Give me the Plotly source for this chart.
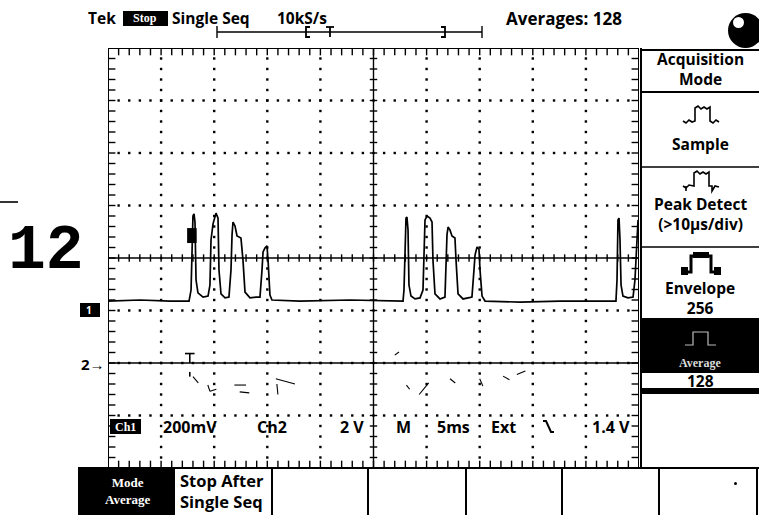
import plotly.graph_objects as go

# Screen size and graticule placement (pixels)
W, H = 759, 515
GX0, GX1, GY0, GY1 = 108, 639, 48, 468

# Acquisition / vertical settings
n_hdiv, n_vdiv = 10, 8
time_per_div_ms = 5
ch1_mv_per_div = 200
ch1_offset_div = -1.0
ch2_v_per_div = 2
ch2_offset_div = -2.0
trigger_ms = 7.7

# Ch1 averaged record: time (ms) and level (mV)
ch1_t_ms = [0, 3.01, 5.84, 7.63, 7.82, 7.91, 8.00, 8.10, 8.19, 8.29, 8.47, 8.95, 9.42, 9.60,
            9.70, 9.89, 10.08, 10.17, 10.36, 10.45, 10.64, 11.02, 11.39, 11.58, 11.68, 11.77,
            11.96, 12.15, 12.52, 12.71, 12.90, 13.37, 13.94, 14.31, 14.50, 14.60, 14.78, 14.97,
            15.07, 15.25, 15.44, 18.08, 22.79, 27.78,
            27.87, 27.97, 28.06, 28.15, 28.25, 28.34, 28.53, 28.91, 29.38, 29.66, 29.76, 29.85,
            30.04, 30.32, 30.51, 30.60, 30.79, 31.26, 31.73, 31.83, 31.92, 32.02, 32.20, 32.39,
            32.67, 32.77, 32.96, 33.43, 33.90, 34.27, 34.46, 34.56, 34.75, 34.93, 35.03, 35.22,
            35.50, 38.79, 42.56, 46.33, 47.83,
            47.93, 48.02, 48.12, 48.21, 48.31, 48.49, 48.96, 49.44, 49.62, 49.81, 49.91, 50.0]
ch1_mv = [36, 40, 36, 36, 78, 269, 360, 368, 337, 116, 67, 51, 55, 97,
          269, 330, 356, 371, 352, 154, 63, 48, 51, 154, 288, 337,
          322, 284, 276, 192, 70, 48, 51, 51, 154, 223, 238, 246,
          192, 59, 40, 36, 40, 36,
          78, 269, 352, 356, 307, 97, 55, 44, 48, 78, 269, 345,
          360, 352, 337, 192, 63, 44, 51, 154, 288, 318, 307, 284,
          276, 192, 63, 44, 48, 51, 154, 211, 242, 234, 154, 55,
          36, 32, 36, 36, 36,
          116, 345, 352, 269, 97, 55, 48, 51, 116, 307, 345, 337]

# Ch2 record: time (ms) and level (V)
ch2_t_ms = [0, 50]
ch2_v = [0, 0]

# Faint leftover specks of the averaged Ch2 record (ms, V), segments split by None
ch2_residue_t = [8.0, 8.5, None, 9.4, 9.6, None, 9.6, 10.2, None, 11.9, 13.0, None, 12.4, 13.3, None,
                 15.8, 17.6, None, 15.9, 16.0, None, 28.1, 28.4, None, 29.3, 30.2, None,
                 32.2, 32.7, None, 35.0, 35.3, None, 37.2, 37.8, None, 38.5, 39.3, None, 27.0, 27.4]
ch2_residue_v = [-0.52, -0.76, None, -0.84, -1.08, None, -1.08, -1.0, None, -0.84, -0.84, None,
                 -1.1, -1.14, None, -0.6, -0.8, None, -0.8, -1.2, None, -0.84, -1.0, None,
                 -1.2, -0.76, None, -0.6, -0.76, None, -0.6, -0.88, None, -0.5, -0.64, None,
                 -0.44, -0.3, None, 0.3, 0.42]

# Readout labels along the bottom of the graticule
readout_labels = ["200mV", "Ch2", "2 V", "M", "5ms", "Ext", "1.4 V"]
readout_x_px = [190, 272, 352, 404, 453, 503, 611]

t_max = n_hdiv * time_per_div_ms
MENU_FONT = 15.5


def ch1_div(v):
    return v / ch1_mv_per_div + ch1_offset_div


def ch2_div(v):
    return None if v is None else v / ch2_v_per_div + ch2_offset_div


def px(x):
    return x / W


def py(y):
    return 1 - y / H


def seg(x0, y0, x1, y1, w=1.5, color="black"):
    return dict(type="line", xref="paper", yref="paper", x0=px(x0), y0=py(y0),
                x1=px(x1), y1=py(y1), line=dict(color=color, width=w))


def box(x0, y0, x1, y1, fill="black", lw=0, lc="black"):
    return dict(type="rect", xref="paper", yref="paper", x0=px(x0), y0=py(y0),
                x1=px(x1), y1=py(y1), fillcolor=fill, line=dict(color=lc, width=lw))


def poly(pts, w=1.5, color="black"):
    d = "M " + " L ".join(f"{px(x):.5f},{py(y):.5f}" for x, y in pts)
    return dict(type="path", xref="paper", yref="paper", path=d,
                line=dict(color=color, width=w))


def txt(x, y, s, size=14, color="black", anchor="center", family="Open Sans", bold=True):
    return dict(x=px(x), y=py(y), xref="paper", yref="paper",
                text=f"<b>{s}</b>" if bold else s, showarrow=False,
                xanchor=anchor, yanchor="middle", borderpad=0,
                font=dict(family=family, size=size, color=color))


fig = go.Figure()

# --- Graticule: dotted division lines ---
dot_x, dot_y = [], []
for k in range(1, n_hdiv):
    if k == n_hdiv // 2:
        continue
    for i in range(1, n_vdiv * 5):
        dot_x.append(k * time_per_div_ms)
        dot_y.append(-n_vdiv / 2 + 0.2 * i)
for j in range(1, n_vdiv):
    yv = j - n_vdiv / 2
    if yv == 0:
        continue
    for i in range(1, n_hdiv * 5):
        dot_x.append(i * time_per_div_ms / 5)
        dot_y.append(yv)
fig.add_trace(go.Scatter(x=dot_x, y=dot_y, mode="markers",
                         marker=dict(symbol="square", size=2.4, color="black"),
                         hoverinfo="skip"))

# --- Graticule: centre cross, border and minor ticks ---
tick_x, tick_y = [], []
ht = 0.07       # half tick height (div)
hw = 0.35       # half tick width (ms)
step_t = time_per_div_ms / 5
for i in range(1, n_hdiv * 5):
    t = i * step_t
    tick_x += [t, t, None, t, t, None, t, t, None]
    tick_y += [-ht, ht, None, 4, 4 - 2 * ht, None, -4, -4 + 2 * ht, None]
for i in range(1, n_vdiv * 5):
    yv = -4 + 0.2 * i
    tick_x += [t_max / 2 - hw, t_max / 2 + hw, None, 0, 2 * hw, None, t_max, t_max - 2 * hw, None]
    tick_y += [yv, yv, None, yv, yv, None, yv, yv, None]
tick_x += [0, t_max, None, t_max / 2, t_max / 2]
tick_y += [0, 0, None, -4, 4]
fig.add_trace(go.Scatter(x=tick_x, y=tick_y, mode="lines",
                         line=dict(color="black", width=1.4), hoverinfo="skip"))

# --- Ch2 trace and residue ---
fig.add_trace(go.Scatter(x=ch2_t_ms, y=[ch2_div(v) for v in ch2_v], mode="lines",
                         line=dict(color="black", width=1.6), hoverinfo="skip"))
fig.add_trace(go.Scatter(x=ch2_residue_t, y=[ch2_div(v) for v in ch2_residue_v], mode="lines",
                         line=dict(color="black", width=1.1), hoverinfo="skip",
                         connectgaps=False))

# Trigger position marker on Ch2
tr_top = ch2_offset_div + 0.18
fig.add_trace(go.Scatter(x=[trigger_ms - 0.45, trigger_ms + 0.45, None, trigger_ms, trigger_ms,
                            None, trigger_ms, trigger_ms],
                         y=[tr_top, tr_top, None, tr_top, ch2_offset_div, None,
                            ch2_offset_div - 0.17, ch2_offset_div - 0.26],
                         mode="lines", line=dict(color="black", width=1.6), hoverinfo="skip"))

# --- Ch1 trace ---
fig.add_trace(go.Scatter(x=ch1_t_ms, y=[ch1_div(v) for v in ch1_mv], mode="lines",
                         line=dict(color="black", width=1.7), hoverinfo="skip"))

shapes = []
ann = []

# Graticule outline
shapes.append(dict(type="rect", xref="x", yref="y", x0=0, y0=-4, x1=t_max, y1=4,
                   line=dict(color="black", width=2)))
# Ch1 cursor block beside the first pulse
shapes.append(dict(type="rect", xref="x", yref="y", x0=trigger_ms - 0.25, x1=trigger_ms + 0.65,
                   y0=ch1_div(257), y1=ch1_div(314), fillcolor="black", line=dict(width=0)))

# --- Top status line ---
ann.append(txt(87, 18, "Tek", 15.5, anchor="left"))
shapes.append(box(123, 11, 168, 26))
ann.append(txt(145, 18, "Stop", 12, color="white", family="Liberation Serif"))
ann.append(txt(171, 18, "Single Seq", 15.5, anchor="left"))
ann.append(txt(276, 18, "10kS/s", 15.5, anchor="left"))
ann.append(txt(505, 18, "Averages: 128", 17, anchor="left"))

# Record / trigger position bar with window brackets and trigger point
shapes += [seg(217, 32, 482, 32, 1.4), seg(217, 26, 217, 38, 1.4), seg(482, 26, 482, 38, 1.4),
           poly([(310, 27), (306, 27), (306, 37), (310, 37)], 1.8),
           poly([(441, 27), (445, 27), (445, 37), (441, 37)], 1.8),
           seg(326, 27, 334, 27, 1.8), seg(330, 27, 330, 37, 1.8)]

# Run indicator
shapes.append(dict(type="circle", xref="paper", yref="paper", x0=px(728), y0=py(48),
                   x1=px(763), y1=py(13), fillcolor="black", line=dict(width=0)))
shapes.append(dict(type="circle", xref="paper", yref="paper", x0=px(733), y0=py(28),
                   x1=px(744), y1=py(17), fillcolor="white", line=dict(width=0)))

# --- Channel ground markers ---
shapes.append(box(80, 303, 100, 317))
ann.append(txt(89, 310, "1", 10, color="white"))
ann.append(txt(80, 364, "2→", 15, anchor="left"))

# Side label
shapes.append(seg(0, 202, 18, 202, 1.6))
ann.append(txt(46, 251, "12", 63, family="Liberation Mono"))

# --- Right-hand menu ---
shapes += [seg(641, 48, 641, 468, 2), seg(641, 50, 759, 50, 2), seg(641, 92, 759, 92, 2),
           seg(641, 167, 759, 167, 1.5), seg(641, 247, 759, 247, 1.5),
           box(641, 318, 759, 373), box(641, 388, 759, 394)]
ann += [txt(700, 69, "Acquisition<br>Mode", MENU_FONT),
        txt(700, 144, "Sample", MENU_FONT),
        txt(700, 214, "Peak Detect<br>(&gt;10µs/div)", MENU_FONT),
        txt(700, 298, "Envelope<br>256", MENU_FONT),
        txt(700, 363, "Average", 12, color="#dddddd", family="Liberation Serif"),
        txt(700, 381, "128", MENU_FONT)]
# Sample icon
shapes.append(poly([(683, 121), (686, 123), (689, 120), (692, 122), (695, 121), (695, 108),
                    (698, 106), (701, 109), (704, 107), (707, 109), (710, 107), (710, 121),
                    (713, 123), (716, 120), (719, 122)], 1.6))
# Peak detect icon
shapes.append(poly([(683, 186), (686, 188), (689, 185), (694, 186), (694, 173), (697, 171),
                    (700, 174), (703, 172), (706, 174), (709, 172), (709, 186), (712, 186),
                    (712, 191), (715, 186), (719, 187)], 1.6))
shapes.append(poly([(686, 186), (686, 191)], 1.6))
# Envelope icon
shapes.append(poly([(681, 272), (691, 272), (691, 256), (711, 256), (711, 272), (721, 272)], 3))
shapes += [box(681, 267, 688, 275), box(693, 252, 709, 258), box(714, 267, 721, 275)]
# Average icon (faint)
shapes.append(poly([(685, 345), (693, 345), (693, 332), (708, 332), (708, 345), (716, 345)],
                   1.2, "#bbbbbb"))

# --- Bottom menu ---
shapes += [seg(78, 468, 759, 468, 2), box(78, 468, 175, 515)]
for xd in [272, 368, 466, 562, 659, 757]:
    shapes.append(seg(xd, 468, xd, 515, 2))
ann += [txt(127, 491, "Mode<br>Average", 13, color="white", family="Liberation Serif"),
        txt(179, 491, "Stop After<br>Single Seq", 16.5, anchor="left")]
ann[-1]["align"] = "left"
shapes.append(dict(type="circle", xref="paper", yref="paper", x0=px(734), y0=py(485),
                   x1=px(737), y1=py(482), fillcolor="black", line=dict(width=0)))

# --- Readout row ---
shapes.append(box(110, 419, 141, 434))
ann.append(txt(125, 427, "Ch1", 12, color="white", family="Liberation Serif"))
for lab, xp in zip(readout_labels, readout_x_px):
    ann.append(txt(xp, 427, lab, 16))
shapes.append(poly([(543, 421), (546, 421), (551, 432), (554, 432)], 2))

fig.update_layout(
    width=W, height=H, autosize=False,
    margin=dict(l=0, r=0, t=0, b=0),
    paper_bgcolor="white", plot_bgcolor="white",
    showlegend=False,
    xaxis=dict(domain=[px(GX0), px(GX1)], range=[0, t_max], visible=False, fixedrange=True),
    yaxis=dict(domain=[py(GY1), py(GY0)], range=[-n_vdiv / 2, n_vdiv / 2], visible=False,
               fixedrange=True),
    shapes=shapes, annotations=ann,
)

fig.write_html("out.html")
